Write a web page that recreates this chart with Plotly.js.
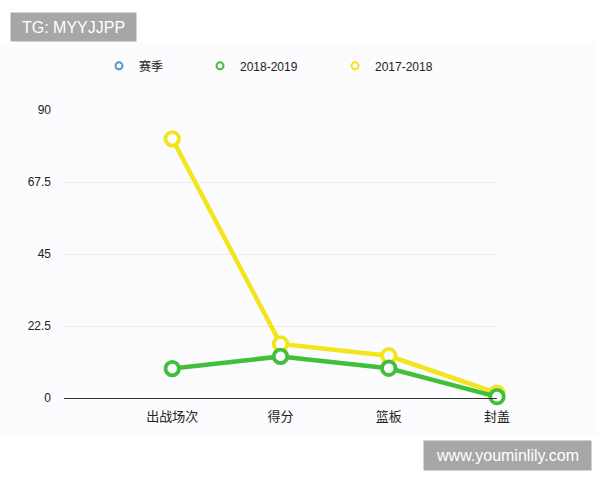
<!DOCTYPE html>
<html>
<head>
<meta charset="utf-8">
<script src="https://cdn.plot.ly/plotly-3.0.1.min.js"></script>
<style>
  html, body { margin: 0; padding: 0; background: #fff; }
  #chart { width: 600px; height: 480px; }
</style>
</head>
<body>
<div id="chart"></div>
<script>
// categories along the x axis
var categories = ['出战场次', '得分', '篮板', '封盖'];

// season values
var season2018 = [9.2, 13, 9.3, 0.4];
var season2017 = [81, 16.9, 13.2, 1.5];

// legend entries
var legendNames = ['赛季', '2018-2019', '2017-2018'];
var legendColors = ['#4a96c9', '#41bf3a', '#f3e41b'];

var yTicks = [0, 22.5, 45, 67.5, 90];

var font = '"Liberation Sans", "Noto Sans CJK SC", sans-serif';

function seriesTrace(values, color) {
    return {
        x: categories,
        y: values,
        type: 'scatter',
        mode: 'lines+markers',
        showlegend: false,
        cliponaxis: false,
        hoverinfo: 'skip',
        line: {color: color, width: 4.5},
        marker: {
            symbol: 'circle',
            size: 13.5,
            color: '#fdfcfe',
            line: {color: color, width: 3.8}
        }
    };
}

// legend-only entries: just a small ring, like the original
var legendWidths = [56, 90, 90];
var legendTraces = legendNames.map(function (name, i) {
    return {
        x: [null],
        y: [null],
        type: 'scatter',
        mode: 'markers',
        name: name,
        legendwidth: legendWidths[i],
        marker: {
            symbol: 'circle-open',
            size: 7,
            color: legendColors[i],
            line: {color: legendColors[i], width: 2}
        }
    };
});

// 2017-2018 drawn first so the green line sits on top, as in the original
var data = legendTraces.concat([
    seriesTrace(season2017, legendColors[2]),
    seriesTrace(season2018, legendColors[1])
]);

var layout = {
    width: 600,
    height: 480,
    margin: {l: 64, r: 103, t: 110, b: 82},
    paper_bgcolor: '#ffffff',
    plot_bgcolor: 'rgba(0,0,0,0)',
    font: {family: font, size: 12, color: '#333'},
    showlegend: true,
    legend: {
        orientation: 'h',
        xref: 'container',
        yref: 'container',
        x: 0.165,
        y: 0.893,
        xanchor: 'left',
        yanchor: 'top',
        itemwidth: 30,
        bgcolor: 'rgba(0,0,0,0)',
        font: {family: font, size: 12, color: '#222'}
    },
    xaxis: {
        type: 'category',
        range: [-1, 3],
        showgrid: false,
        zeroline: false,
        showline: true,
        linecolor: '#333',
        linewidth: 1,
        ticks: '',
        ticklabelstandoff: 6,
        tickfont: {family: font, size: 13, color: '#222'},
        fixedrange: true
    },
    yaxis: {
        range: [0, 90],
        tickvals: yTicks,
        ticktext: yTicks.map(String),
        showgrid: true,
        gridcolor: '#ececee',
        gridwidth: 1,
        zeroline: false,
        showline: false,
        ticks: '',
        ticklabelstandoff: 12,
        tickfont: {family: font, size: 12, color: '#222'},
        fixedrange: true
    },
    shapes: [{
        // pale panel behind the chart
        type: 'rect',
        xref: 'paper', yref: 'paper',
        x0: -0.148, x1: 1.231, y0: -0.132, y1: 1.233,
        fillcolor: '#fcfbfd',
        line: {width: 0},
        layer: 'below'
    }],
    annotations: [{
        text: 'TG: MYYJJPP',
        xref: 'paper', yref: 'paper',
        x: -0.1247, y: 1.34,
        xanchor: 'left', yanchor: 'top',
        showarrow: false,
        bgcolor: '#a7a7a7',
        width: 117, height: 20, borderpad: 4,
        font: {family: font, size: 16, color: '#ffffff'}
    }, {
        text: 'www.youminlily.com',
        xref: 'paper', yref: 'paper',
        x: 0.829, y: -0.146,
        xanchor: 'left', yanchor: 'top',
        showarrow: false,
        bgcolor: '#a7a7a7',
        width: 159, height: 21, borderpad: 4,
        font: {family: font, size: 16, color: '#ffffff'}
    }]
};

Plotly.newPlot('chart', data, layout, {displayModeBar: false, staticPlot: true});
</script>
</body>
</html>
